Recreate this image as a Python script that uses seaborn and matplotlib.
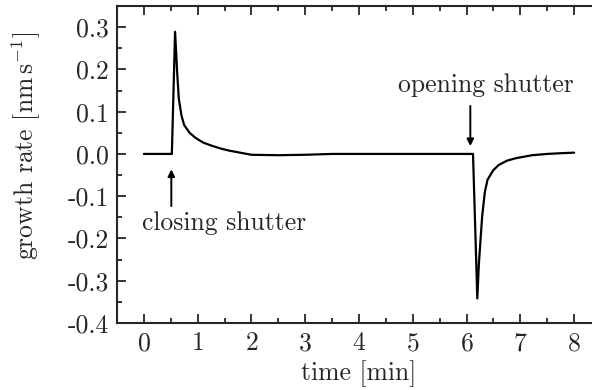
import numpy as np
import pandas as pd
import matplotlib
matplotlib.use('Agg')
import matplotlib.pyplot as plt
import seaborn as sns

## =============================== ##
## data

time_min = [0.0, 0.50, 0.52, 0.58, 0.62, 0.65, 0.70, 0.75, 0.85, 0.96, 1.10, 1.27,
            1.45, 1.58, 1.83, 2.00, 2.50, 3.00, 3.50, 4.00, 5.00, 6.00, 6.12, 6.16,
            6.20, 6.23, 6.29, 6.34, 6.39, 6.50, 6.60, 6.75, 6.92, 7.22, 7.50, 7.80, 8.00]
growth_rate = [0.0, 0.0, 0.0, 0.289, 0.19, 0.13, 0.09, 0.068, 0.05, 0.038, 0.027, 0.019,
               0.012, 0.008, 0.002, -0.002, -0.003, -0.002, 0.0, 0.0, 0.0, 0.0, 0.0, -0.17,
               -0.342, -0.258, -0.148, -0.09, -0.061, -0.038, -0.026, -0.016, -0.010, -0.003, 0.0, 0.002, 0.003]

xticks = [0, 1, 2, 3, 4, 5, 6, 7, 8]
yticks = [-0.4, -0.3, -0.2, -0.1, 0.0, 0.1, 0.2, 0.3]

df = pd.DataFrame({'time': time_min, 'rate': growth_rate})

## =============================== ##

sns.set_style('ticks')
plt.rcParams['font.family'] = ['cmr10', 'DejaVu Serif']
plt.rcParams['mathtext.fontset'] = 'cm'
plt.rcParams['axes.unicode_minus'] = False
plt.rcParams['axes.formatter.use_mathtext'] = True
FS = 18.5
plt.rcParams['font.size'] = FS

fig = plt.figure(figsize=(5.92, 3.90), dpi=100)
ax = fig.add_axes([117/592, 67/390, 484/592, 317/390])

sns.lineplot(ax=ax, data=df, x='time', y='rate', color='k', lw=1.6)

ax.set_xlim(-0.5, 8.5)
ax.set_ylim(-0.4, 0.35)
ax.set_xticks(xticks)
ax.set_yticks(yticks)
ax.set_yticklabels(['%.1f' % v for v in yticks])
ax.set_xticks(np.arange(-0.5, 8.6, 0.5), minor=True)
ax.set_yticks(np.arange(-0.35, 0.35, 0.1), minor=True)
ax.tick_params(which='both', direction='in', top=True, right=True, width=1.3, labelsize=FS)
ax.tick_params(which='major', length=6.5, pad=6)
ax.tick_params(which='minor', length=3.5)
for s in ax.spines.values():
    s.set_linewidth(1.5)

ax.set_xlabel('time [min]', labelpad=4)
ax.set_ylabel(r'growth rate [nm$\,$s$^{-1}$]')
ax.yaxis.set_label_coords(-0.152, 0.56)

ax.annotate('', xy=(0.51, -0.03), xytext=(0.51, -0.13),
            arrowprops=dict(arrowstyle='-|>', lw=1.4, color='k', mutation_scale=10))
ax.text(1.49, -0.163, 'closing shutter', ha='center', va='center')
ax.annotate('', xy=(6.07, 0.012), xytext=(6.07, 0.12),
            arrowprops=dict(arrowstyle='-|>', lw=1.4, color='k', mutation_scale=10))
ax.text(6.36, 0.163, 'opening shutter', ha='center', va='center')

fig.savefig('out.png', dpi=100)
